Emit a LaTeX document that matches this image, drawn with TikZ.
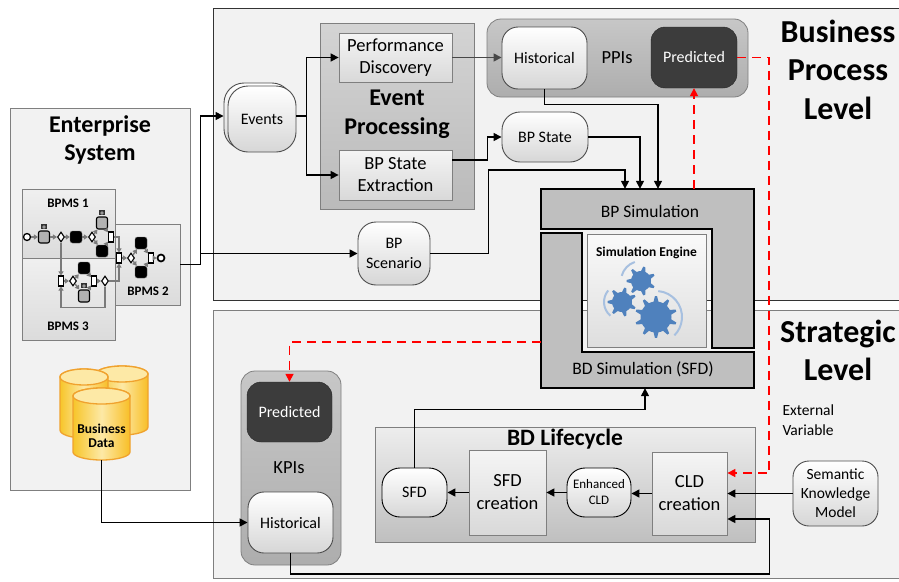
\documentclass[tikz,border=0pt]{standalone}
\usepackage{fontspec}
\setmainfont{Carlito}
\usetikzlibrary{arrows.meta,calc,shapes.geometric}
\definecolor{panelbg}{HTML}{F2F2F2}
\definecolor{edgegray}{HTML}{7F7F7F}
\definecolor{nodeedge}{HTML}{4D4D4D}
\definecolor{darkfill}{HTML}{3C3C3C}
\definecolor{simgray}{HTML}{BFBFBF}
\definecolor{gearblue}{HTML}{4F81BD}
\definecolor{arcblue}{HTML}{A7C0E0}
\definecolor{dbyellow}{HTML}{F7C52A}
\definecolor{dblight}{HTML}{FDE9A6}
\definecolor{dbedge}{HTML}{F0A22E}
\definecolor{flowgray}{HTML}{7A7A7A}
\newcommand\fsz[2]{\fontsize{#1pt}{#2pt}\selectfont}

% cog wheel: centre x, centre y, root radius, tip radius, number of teeth
\newcommand\cogwheel[5]{%
  \pgfmathsetmacro\cogstep{360/#5}%
  \fill[gearblue] ($(#1,#2)+(0:#3pt)$)
    \foreach \k in {1,...,#5}{
      -- ($(#1,#2)+({(\k-1)*\cogstep+0.25*\cogstep}:#3pt)$)
      -- ($(#1,#2)+({(\k-1)*\cogstep+0.42*\cogstep}:#4pt)$)
      -- ($(#1,#2)+({(\k-1)*\cogstep+0.58*\cogstep}:#4pt)$)
      -- ($(#1,#2)+({(\k-1)*\cogstep+0.75*\cogstep}:#3pt)$)
      -- ($(#1,#2)+({\k*\cogstep}:#3pt)$)
    } -- cycle;}

% database cylinder: left x, right x, top y, bottom y, ellipse half-height
\newcommand\dbcyl[5]{%
  \pgfmathsetmacro\cylrx{(#2-#1)/2}%
  \pgfmathsetmacro\cylcx{(#1+#2)/2}%
  \path[left color=dbyellow, right color=dbyellow!90!orange, middle color=dblight,
        draw=dbedge, line width=1.3pt]
    (#1,#3) -- (#1,#4) arc[start angle=180, end angle=360, x radius=\cylrx pt, y radius=#5pt]
    -- (#2,#3) arc[start angle=0, end angle=180, x radius=\cylrx pt, y radius=#5pt] -- cycle;
  \path[fill=dblight, draw=dbedge, line width=1.3pt]
    (\cylcx,#3) ellipse[x radius=\cylrx pt, y radius=#5pt];}

\begin{document}
\begin{tikzpicture}[x=1pt, y=-1pt, font=\fsz{16}{19},
  sz/.style 2 args={minimum width=#1pt, minimum height=#2pt, inner sep=0pt},
  panel/.style={fill=panelbg, draw=edgegray, line width=0.8pt},
  lightbox/.style={draw=edgegray, line width=0.8pt, top color=black!4, bottom color=black!15, align=center},
  bpmsbox/.style={draw=edgegray, line width=0.8pt, top color=black!6, bottom color=black!14},
  softnode/.style={draw=nodeedge, line width=0.9pt, rounded corners=16pt, top color=white, bottom color=black!16, align=center},
  darknode/.style={draw=black!85, fill=darkfill, rounded corners=14pt, text=white, align=center},
  holder/.style={draw=edgegray, line width=0.8pt, rounded corners=14pt, top color=black!22, bottom color=black!32},
  simshape/.style={draw=black, fill=simgray, line width=1.5pt},
  conn/.style={draw=black, line width=1.5pt, -{Triangle[length=8pt,width=8pt]}},
  greyconn/.style={conn, draw=black!72},
  reddash/.style={draw=red, line width=1.6pt, dash pattern=on 9pt off 6pt, -{Triangle[length=8pt,width=8pt]}},
  bev/.style={circle, draw=black, line width=1.3pt, fill=white, minimum size=7pt, inner sep=0pt},
  bgw/.style={diamond, draw=black, line width=1.1pt, fill=white, minimum width=7pt, minimum height=10pt, inner sep=0pt},
  btb/.style={rounded corners=2.5pt, fill=black, draw=black!60, minimum size=12pt, inner sep=0pt},
  btg/.style={draw=black, line width=1.1pt, fill=black!30, minimum width=11pt, minimum height=12pt, rounded corners=2pt, inner sep=0pt},
  bbar/.style={draw=black, line width=1.1pt, fill=white, minimum width=5pt, minimum height=10pt, inner sep=0pt},
  bflow/.style={draw=flowgray, line width=1.4pt, -{Triangle[length=4pt,width=5pt]}},
]
\useasboundingbox (0,0) rectangle (899,581);
\clip (0,0) rectangle (899,581);
\fill[white] (0,0) rectangle (899,581);

% ---------- panels ----------
\draw[panel] (10,108) rectangle (190,490);
\node[font=\bfseries\fsz{24}{28}, align=center] (enttitle) at (100,140) {Enterprise\\System};
\draw[panel, draw=black!80] (213,8) rectangle (910,300);
\node[font=\bfseries\fsz{32}{38.5}, align=center] (bpltitle) at (838,69.5) {Business\\Process\\Level};
\draw[panel] (213,310) rectangle (910,578);
\node[font=\bfseries\fsz{32}{38}, align=center] (sltitle) at (838,350) {Strategic\\Level};

% ---------- enterprise system: process engines ----------
\node[bpmsbox, sz={93}{69}] (bpms1) at (68.5,223.5) {};
\node[bpmsbox, sz={93}{82}] (bpms3) at (68.5,299) {};
\node[bpmsbox, sz={65}{81}] (bpms2) at (147.5,264.5) {};
\node[font=\bfseries\fsz{13}{15}] (bpms1lbl) at (68,203) {BPMS 1};
\node[font=\bfseries\fsz{13}{15}] (bpms2lbl) at (148,291) {BPMS 2};
\node[font=\bfseries\fsz{13}{15}] (bpms3lbl) at (68,326) {BPMS 3};

% small process model
\node[bev] (s1) at (27,237) {};
\node[btg] (t1) at (44,237) {};
\node[bgw] (g1) at (61,237) {};
\node[btb] (t2) at (76,237) {};
\node[bgw] (g2) at (92,237) {};
\node[btg] (t3) at (102,223) {};
\node[btb] (t4) at (102,251) {};
\node[bbar] (b1) at (111,237) {};
\node[bbar] (b2) at (119,258) {};
\node[bgw] (g3) at (131,258) {};
\node[btb] (t5) at (141,243) {};
\node[btb] (t6) at (141,272) {};
\node[bbar] (b3) at (151,258) {};
\node[bev, line width=1.7pt] (e1) at (161,258) {};
\node[bbar] (b4) at (61,281) {};
\node[bgw] (g4) at (73,281) {};
\node[btb] (t7) at (84,268) {};
\node[btg] (t8) at (84,296) {};
\node[bbar] (b5) at (94,281) {};
\node[bgw] (g5) at (105,281) {};
\foreach \a/\b in {s1/t1, t1/g1, g1/t2, t2/g2, g2/t3, g2/t4, t3/b1, t4/b1,
                   b2/g3, g3/t5, g3/t6, t5/b3, t6/b3, b3/e1,
                   b4/g4, g4/t7, g4/t8, t7/b5, t8/b5, b5/g5}
  \draw[bflow] (\a) -- (\b);
\draw[bflow] (b1.east) -| (b2.north);
\draw[bflow] (g1.south) -- (b4.north);
\draw[bflow] (g5.east) -| (b2.south);
\draw[bflow] (g5.south) -- ++(0,21) -| (b4.south);
\foreach \px/\py in {44/237, 102/223, 84/296}{
  \fill[black!80] (\px-3,\py-13) rectangle (\px+3,\py-8);
  \fill[black!40] (\px,\py-10) circle (1.8pt);
}

% business data store
\dbcyl{96}{148}{374}{427}{8}
\dbcyl{60}{108}{377}{430}{8}
\dbcyl{73}{130}{396}{452}{8}
\node[font=\bfseries\fsz{13.5}{14}, align=center, sz={57}{48}] (data) at (101.5,436) {Business\\Data};

% ---------- business process level ----------
\node[softnode, rounded corners=20pt, sz={68}{66}] (eventsbk) at (258,116) {};
\node[softnode, rounded corners=20pt, sz={68}{66}] (events) at (262,119) {Events};

\node[draw=edgegray, line width=0.8pt, top color=black!17, bottom color=black!27, sz={154}{186}] (evproc) at (397,116) {};
\node[font=\bfseries\fsz{24}{29}, align=center] (evtitle) at (397,114.5) {Event\\Processing};
\node[lightbox, sz={113}{49}, font=\fsz{18.5}{22}] (perf) at (395.5,57.5) {Performance\\Discovery};
\node[lightbox, sz={113}{50}, font=\fsz{18.5}{22}] (bpse) at (395.5,175) {BP State\\Extraction};

\node[holder, sz={261}{78}] (ppis) at (617.5,58) {};
\node[softnode, sz={85}{62}] (histppi) at (544.5,58) {Historical};
\node[font=\fsz{18.5}{22}] (ppilabel) at (617,58) {PPIs};
\node[darknode, sz={86}{61}] (predppi) at (694,57.5) {Predicted};

\node[softnode, rounded corners=18pt, sz={86}{50}] (bpstate) at (545,137) {BP State};
\node[softnode, rounded corners=18pt, sz={72}{63}, font=\fsz{16}{20}] (bpscen) at (394,253.5) {BP\\Scenario};

% ---------- simulation ----------
\draw[simshape] (541,189) -- (754,189) -- (754,348) -- (712,348) -- (712,229) -- (541,229) -- cycle;
\draw[simshape] (541,233) -- (582,233) -- (582,352) -- (754,352) -- (754,388) -- (541,388) -- cycle;
\node[sz={213}{40}] (bpsim) at (647.5,209) {};
\node[sz={213}{36}] (bdsim) at (647.5,370) {};
\node[font=\fsz{17.5}{20}] (bpsimtext) at (650,211) {BP Simulation};
\node[font=\fsz{17.5}{20}] (bdsimtext) at (643,369) {BD Simulation (SFD)};
\node[draw=edgegray, line width=0.8pt, top color=black!2, bottom color=black!13, sz={119}{113}] (engine) at (646.5,290.5) {};
\node[font=\bfseries\fsz{13.5}{16}] (enginetitle) at (646.5,253) {Simulation Engine};
\draw[arcblue, line width=2pt] (641,281) ++(108:20pt) arc[start angle=108, end angle=165, radius=20pt];
\draw[arcblue, line width=2pt] (622,302) ++(140:18pt) arc[start angle=140, end angle=230, radius=18pt];
\draw[arcblue, line width=2pt] (656,317) ++(85:26pt) arc[start angle=85, end angle=-45, radius=26pt];
\cogwheel{641}{281}{10}{14.5}{7}
\cogwheel{622}{302}{10}{14.5}{7}
\cogwheel{656}{317}{15.5}{21}{10}

% ---------- strategic level ----------
\node[holder, sz={100}{194}] (kpis) at (291,468) {};
\node[darknode, sz={85}{60}] (predkpi) at (289.5,412) {Predicted};
\node[font=\fsz{18.5}{22}] (kpilabel) at (289,468) {KPIs};
\node[softnode, sz={85}{61}] (histkpi) at (290.5,522.5) {Historical};

\node[draw=edgegray, line width=0.8pt, top color=black!7, bottom color=black!25, sz={380}{115}] (bdlife) at (565,484.5) {};
\node[font=\bfseries\fsz{23.5}{26}] (bdlifetitle) at (565,439) {BD Lifecycle};
\node[softnode, draw=black, rounded corners=18pt, sz={65}{49}] (sfd) at (414.5,492.5) {SFD};
\node[lightbox, sz={77}{85}, font=\fsz{18.5}{23}] (sfdc) at (507.5,492.5) {SFD\\creation};
\node[softnode, draw=black, rounded corners=18pt, sz={64}{49}, font=\fsz{13}{16}] (ecld) at (599,492.5) {Enhanced\\CLD};
\node[lightbox, sz={75}{83}, font=\fsz{18.5}{23}] (cldc) at (689.5,493.5) {CLD\\creation};
\node[softnode, sz={85}{65}, font=\fsz{15.5}{19}] (skm) at (835.5,493.5) {Semantic\\Knowledge\\Model};
\node[anchor=west, align=left, font=\fsz{15.5}{20}] (extvar) at (779,420) {External\\Variable};

% ---------- connectors ----------
\draw[conn] (bpms2.east) -- ++(20,0) coordinate (fork) |- (eventsbk.west);
\draw[conn] (fork |- bpscen.west) -- (bpscen.west);
\draw[conn] ([yshift=3pt]events.east) -- ++(10,0) |- (perf.west);
\draw[conn] ([yshift=3pt]events.east) ++(10,0) |- (bpse.west);
\draw[greyconn] (perf.east) -- (perf.east -| histppi.west);
\draw[conn] ([yshift=15pt]bpse.east) -- ++(35,0) |- (bpstate.west);
\draw[conn] (histppi.south) -- ++(0,15) -| ([xshift=10.5pt]bpsim.north);
\draw[conn] (bpstate.east) -| ([xshift=-7.5pt]bpsim.north);
\draw[conn] (bpscen.east) -- ++(58,0) |- ([xshift=-22.5pt,yshift=19pt]bpsim.north) -- ([xshift=-22.5pt]bpsim.north);

\draw[reddash] (predppi.south |- bpsim.north) -- (predppi.south);
\draw[reddash] (predppi.east) -- ++(32,0) |- ([yshift=20.5pt]cldc.east);
\draw[reddash] ([yshift=28pt]bdsim.west) -| (predkpi.north);

\draw[conn] (cldc.west) -- (cldc.west -| ecld.east);
\draw[conn] (ecld.west) -- (sfdc.east);
\draw[conn] (sfdc.west) -- (sfd.east);
\draw[conn] (skm.west) -- (cldc.east);
\draw[conn] (sfd.north) -- ++(0,-58) -| ([xshift=-2.5pt]bdsim.south);
\draw[conn] (histkpi.south) -- ++(0,20.5) -| ([xshift=42pt,yshift=-25.5pt]cldc.east) -- ([yshift=-25.5pt]cldc.east);
\draw[conn] (data.south) |- (histkpi.west);
\end{tikzpicture}
\end{document}
